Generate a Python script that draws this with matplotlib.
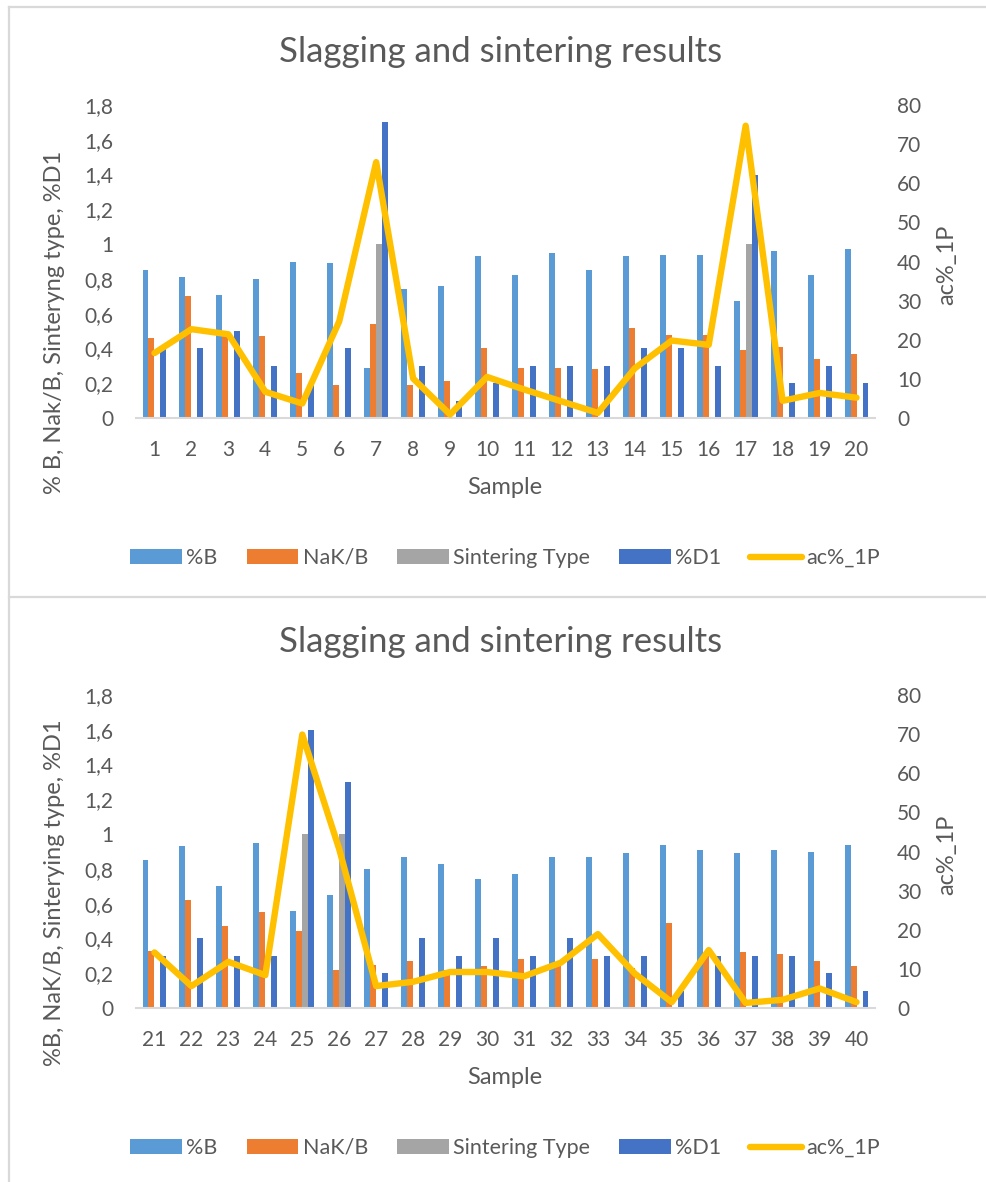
import matplotlib
matplotlib.use("Agg")
import matplotlib.pyplot as plt
import numpy as np
from matplotlib.lines import Line2D
from matplotlib.patches import Patch
from matplotlib.ticker import FuncFormatter, MultipleLocator

plt.rcParams['font.family'] = ['Lato', 'DejaVu Sans']

# ---- data -------------------------------------------------------------
samples_a = list(range(1, 21))
pct_b_a = [0.85, 0.81, 0.71, 0.80, 0.90, 0.89, 0.29, 0.74, 0.76, 0.93,
           0.82, 0.95, 0.85, 0.93, 0.94, 0.94, 0.67, 0.96, 0.82, 0.97]
nak_b_a = [0.46, 0.70, 0.47, 0.47, 0.26, 0.19, 0.54, 0.19, 0.21, 0.40,
           0.29, 0.29, 0.28, 0.52, 0.48, 0.48, 0.39, 0.41, 0.34, 0.37]
sint_a = [0, 0, 0, 0, 0, 0, 1, 0, 0, 0,
          0, 0, 0, 0, 0, 0, 1, 0, 0, 0]
pct_d1_a = [0.40, 0.40, 0.50, 0.30, 0.20, 0.40, 1.70, 0.30, 0.10, 0.20,
            0.30, 0.30, 0.30, 0.40, 0.40, 0.30, 1.40, 0.20, 0.30, 0.20]
ac_1p_a = [16.6, 22.7, 21.4, 6.7, 3.7, 24.7, 65.4, 10.1, 0.9, 10.5,
           7.3, 4.3, 1.3, 12.7, 19.8, 18.7, 74.7, 4.4, 6.4, 5.2]

samples_b = list(range(21, 41))
pct_b_b = [0.85, 0.93, 0.70, 0.95, 0.56, 0.65, 0.80, 0.87, 0.83, 0.74,
           0.77, 0.87, 0.87, 0.89, 0.94, 0.91, 0.89, 0.91, 0.90, 0.94]
nak_b_b = [0.33, 0.62, 0.47, 0.55, 0.44, 0.22, 0.25, 0.27, 0.22, 0.24,
           0.28, 0.24, 0.28, 0.23, 0.49, 0.30, 0.32, 0.31, 0.27, 0.24]
sint_b = [0, 0, 0, 0, 1, 1, 0, 0, 0, 0,
          0, 0, 0, 0, 0, 0, 0, 0, 0, 0]
pct_d1_b = [0.30, 0.40, 0.30, 0.30, 1.60, 1.30, 0.20, 0.40, 0.30, 0.40,
            0.30, 0.40, 0.30, 0.30, 0.10, 0.30, 0.30, 0.30, 0.20, 0.10]
ac_1p_b = [14.2, 5.6, 11.8, 8.4, 69.9, 40.6, 5.6, 6.7, 9.2, 9.2,
           8.1, 11.6, 18.9, 8.8, 1.5, 14.8, 1.3, 2.1, 5.0, 1.5]

series_names = ["%B", "NaK/B", "Sintering Type", "%D1", "ac%_1P"]
colors = ["#5B9BD5", "#ED7D31", "#A5A5A5", "#4472C4", "#FFC000"]
title = "Slagging and sintering results"
xlabel = "Sample"
ylabel_a = "% B, Nak/B, Sinteryng type, %D1"
ylabel_b = "%B, NaK/B, Sinterying type, %D1"
ylabel_right = "ac%_1P"

# ---- layout -----------------------------------------------------------
W, H = 987, 1182
DPI = 100
fig = plt.figure(figsize=(W / DPI, H / DPI), dpi=DPI)
TXT = "#595959"
GRID = "#D9D9D9"
TICK_FS = 15
LABEL_FS = 17
LEGEND_FS = 15.5
TITLE_FS = 25


def fx(px):
    return px / W


def fy(py):
    return 1 - py / H


def comma(v, _pos):
    return f"{v:g}".replace(".", ",")


def panel(top_px, x_labels, b, nak, sint, d1, ac, ylabel, ylab_y):
    y0, y1 = top_px + 313, top_px  # zero line and 1.8 line in pixels
    ax = fig.add_axes([fx(136), fy(y0), fx(875) - fx(136), (y0 - y1) / H])
    x = np.arange(len(x_labels))
    w = 0.162
    for i, (vals, c) in enumerate(zip([b, nak, sint, d1], colors[:4])):
        ax.bar(x + (i - 1.5) * w, vals, width=w, color=c, zorder=2)
    ax.set_xlim(-0.5, len(x_labels) - 0.5)
    ax.set_ylim(0, 1.8)
    ax.yaxis.set_major_locator(MultipleLocator(0.2))
    ax.yaxis.set_major_formatter(FuncFormatter(comma))
    ax.set_xticks(x)
    ax.set_xticklabels([str(s) for s in x_labels])
    for s in ["top", "left", "right"]:
        ax.spines[s].set_visible(False)
    ax.spines["bottom"].set_color(GRID)
    ax.spines["bottom"].set_linewidth(1.5)
    ax.tick_params(axis="both", length=0, colors=TXT, labelsize=TICK_FS)
    ax.tick_params(axis="x", pad=16)
    ax.tick_params(axis="y", pad=16.5)

    ax2 = ax.twinx()
    ax2.plot(x, ac, color=colors[4], lw=4.6, solid_joinstyle="round",
             solid_capstyle="round", zorder=3)
    ax2.set_ylim(0, 80)
    ax2.yaxis.set_major_locator(MultipleLocator(10))
    for s in ax2.spines.values():
        s.set_visible(False)
    ax2.tick_params(axis="y", length=0, colors=TXT, labelsize=TICK_FS, pad=16)

    fig.text(fx(501), fy(top_px - 53), title, ha="center", va="center",
             fontsize=TITLE_FS, color=TXT)
    fig.text(fx(505), fy(y0 + 70), xlabel, ha="center", va="center",
             fontsize=LABEL_FS, color=TXT)
    fig.text(fx(55), fy(ylab_y), ylabel, ha="center", va="center",
             rotation=90, fontsize=LABEL_FS, color=TXT)
    fig.text(fx(947), fy(top_px + 160), ylabel_right, ha="center",
             va="center", rotation=90, fontsize=LABEL_FS, color=TXT)

    handles = [Patch(facecolor=c, edgecolor="none") for c in colors[:4]]
    handles.append(Line2D([0], [0], color=colors[4], lw=4.6,
                          solid_capstyle="round"))
    fig.legend(handles, series_names, loc="center",
               bbox_to_anchor=(fx(505), fy(y0 + 140)), ncol=5,
               frameon=False, fontsize=LEGEND_FS, labelcolor=TXT,
               handlelength=2.4, handleheight=0.65, handletextpad=0.2,
               columnspacing=1.35)
    return ax


panel(105, samples_a, pct_b_a, nak_b_a, sint_a, pct_d1_a, ac_1p_a,
      ylabel_a, 322)
panel(695, samples_b, pct_b_b, nak_b_b, sint_b, pct_d1_b, ac_1p_b,
      ylabel_b, 893)

# chart-area borders
for (xa, xb, ya, yb) in [(9, W, 7, 7), (9, 9, 7, H), (9, W, 597, 597)]:
    fig.add_artist(Line2D([fx(xa), fx(xb)], [fy(ya), fy(yb)],
                          color=GRID, lw=1.6, transform=fig.transFigure))

fig.savefig("out.png", dpi=DPI, facecolor="white")
